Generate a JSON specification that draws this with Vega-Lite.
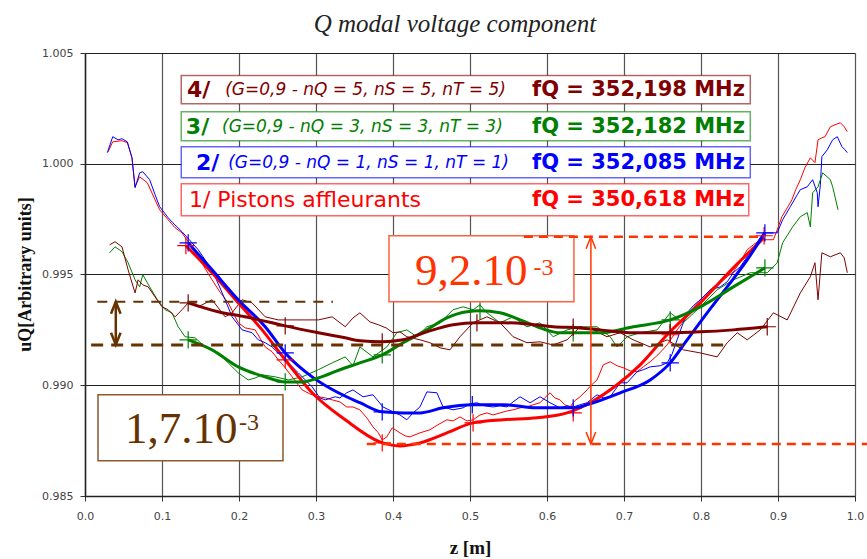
{
"$schema":"https://vega.github.io/schema/vega-lite/v6.json",
"width":770,"height":443,
"autosize":"none",
"padding":{"left":85,"top":53,"right":12,"bottom":63},
"background":"white",
"title":{"text":"Q modal voltage component","font":"Liberation Serif","fontStyle":"italic","fontWeight":"normal","fontSize":25,"color":"#222","anchor":"middle","frame":"group","offset":10,"dx":-15},
"config":{"view":{"stroke":null}},
"datasets":{
"noisy":[
{"s":"1","z":0.030,"u":1.00054},{"s":"1","z":0.036,"u":1.00099},{"s":"1","z":0.048,"u":1.00104},{"s":"1","z":0.055,"u":1.00095},{"s":"1","z":0.061,"u":1.00027},{"s":"1","z":0.065,"u":0.99896},{"s":"1","z":0.071,"u":0.99941},{"s":"1","z":0.081,"u":0.99914},{"s":"1","z":0.091,"u":0.99837},{"s":"1","z":0.097,"u":0.99792},{"s":"1","z":0.108,"u":0.99747},{"s":"1","z":0.117,"u":0.99711},{"s":"1","z":0.126,"u":0.99688},{"s":"1","z":0.134,"u":0.99648},{"s":"1","z":0.143,"u":0.99598},{"s":"1","z":0.153,"u":0.99544},{"s":"1","z":0.165,"u":0.99476},{"s":"1","z":0.175,"u":0.99422},{"s":"1","z":0.186,"u":0.99372},{"s":"1","z":0.199,"u":0.99282},{"s":"1","z":0.208,"u":0.99259},{"s":"1","z":0.221,"u":0.99250},{"s":"1","z":0.234,"u":0.99173},{"s":"1","z":0.243,"u":0.99151},{"s":"1","z":0.251,"u":0.99115},{"s":"1","z":0.260,"u":0.99079},{"s":"1","z":0.269,"u":0.99038},{"s":"1","z":0.282,"u":0.98979},{"s":"1","z":0.292,"u":0.98961},{"s":"1","z":0.303,"u":0.98948},{"s":"1","z":0.312,"u":0.98943},{"s":"1","z":0.321,"u":0.98934},{"s":"1","z":0.331,"u":0.98925},{"s":"1","z":0.340,"u":0.98902},{"s":"1","z":0.348,"u":0.98902},{"s":"1","z":0.357,"u":0.98889},{"s":"1","z":0.366,"u":0.98853},{"s":"1","z":0.374,"u":0.98812},{"s":"1","z":0.381,"u":0.98785},{"s":"1","z":0.386,"u":0.98753},{"s":"1","z":0.392,"u":0.98767},{"s":"1","z":0.399,"u":0.98808},{"s":"1","z":0.409,"u":0.98785},{"s":"1","z":0.416,"u":0.98771},{"s":"1","z":0.422,"u":0.98767},{"s":"1","z":0.435,"u":0.98785},{"s":"1","z":0.448,"u":0.98799},{"s":"1","z":0.458,"u":0.98821},{"s":"1","z":0.470,"u":0.98844},{"s":"1","z":0.478,"u":0.98839},{"s":"1","z":0.487,"u":0.98857},{"s":"1","z":0.496,"u":0.98839},{"s":"1","z":0.504,"u":0.98844},{"s":"1","z":0.513,"u":0.98866},{"s":"1","z":0.522,"u":0.98875},{"s":"1","z":0.530,"u":0.98866},{"s":"1","z":0.539,"u":0.98875},{"s":"1","z":0.548,"u":0.98884},{"s":"1","z":0.556,"u":0.98889},{"s":"1","z":0.565,"u":0.98898},{"s":"1","z":0.574,"u":0.98902},{"s":"1","z":0.582,"u":0.98912},{"s":"1","z":0.591,"u":0.98921},{"s":"1","z":0.597,"u":0.98943},{"s":"1","z":0.604,"u":0.98966},{"s":"1","z":0.610,"u":0.98943},{"s":"1","z":0.617,"u":0.98934},{"s":"1","z":0.623,"u":0.98912},{"s":"1","z":0.630,"u":0.98902},{"s":"1","z":0.636,"u":0.98930},{"s":"1","z":0.643,"u":0.98948},{"s":"1","z":0.652,"u":0.98979},{"s":"1","z":0.658,"u":0.99002},{"s":"1","z":0.665,"u":0.99024},{"s":"1","z":0.673,"u":0.99092},{"s":"1","z":0.682,"u":0.99106},{"s":"1","z":0.691,"u":0.99088},{"s":"1","z":0.699,"u":0.99079},{"s":"1","z":0.708,"u":0.99065},{"s":"1","z":0.717,"u":0.99061},{"s":"1","z":0.725,"u":0.99083},{"s":"1","z":0.734,"u":0.99106},{"s":"1","z":0.744,"u":0.99137},{"s":"1","z":0.756,"u":0.99182},{"s":"1","z":0.769,"u":0.99250},{"s":"1","z":0.782,"u":0.99309},{"s":"1","z":0.790,"u":0.99350},{"s":"1","z":0.799,"u":0.99386},{"s":"1","z":0.808,"u":0.99417},{"s":"1","z":0.816,"u":0.99444},{"s":"1","z":0.825,"u":0.99463},{"s":"1","z":0.834,"u":0.99490},{"s":"1","z":0.842,"u":0.99512},{"s":"1","z":0.851,"u":0.99557},{"s":"1","z":0.860,"u":0.99612},{"s":"1","z":0.868,"u":0.99634},{"s":"1","z":0.877,"u":0.99657},{"s":"1","z":0.886,"u":0.99657},{"s":"1","z":0.894,"u":0.99657},{"s":"1","z":0.900,"u":0.99711},{"s":"1","z":0.905,"u":0.99761},{"s":"1","z":0.912,"u":0.99801},{"s":"1","z":0.918,"u":0.99837},{"s":"1","z":0.923,"u":0.99883},{"s":"1","z":0.929,"u":0.99928},{"s":"1","z":0.935,"u":0.99982},{"s":"1","z":0.942,"u":1.00027},{"s":"1","z":0.948,"u":1.00005},{"s":"1","z":0.952,"u":1.00108},{"s":"1","z":0.957,"u":1.00117},{"s":"1","z":0.961,"u":1.00122},{"s":"1","z":0.968,"u":1.00167},{"s":"1","z":0.974,"u":1.00176},{"s":"1","z":0.981,"u":1.00185},{"s":"1","z":0.986,"u":1.00167},{"s":"1","z":0.990,"u":1.00145},
{"s":"2","z":0.029,"u":1.00050},{"s":"2","z":0.036,"u":1.00122},{"s":"2","z":0.043,"u":1.00108},{"s":"2","z":0.048,"u":1.00113},{"s":"2","z":0.055,"u":1.00099},{"s":"2","z":0.061,"u":1.00027},{"s":"2","z":0.065,"u":0.99892},{"s":"2","z":0.071,"u":0.99959},{"s":"2","z":0.075,"u":0.99964},{"s":"2","z":0.084,"u":0.99928},{"s":"2","z":0.091,"u":0.99860},{"s":"2","z":0.097,"u":0.99806},{"s":"2","z":0.108,"u":0.99756},{"s":"2","z":0.114,"u":0.99734},{"s":"2","z":0.126,"u":0.99693},{"s":"2","z":0.132,"u":0.99670},{"s":"2","z":0.147,"u":0.99612},{"s":"2","z":0.156,"u":0.99566},{"s":"2","z":0.169,"u":0.99490},{"s":"2","z":0.182,"u":0.99386},{"s":"2","z":0.191,"u":0.99309},{"s":"2","z":0.204,"u":0.99250},{"s":"2","z":0.217,"u":0.99237},{"s":"2","z":0.225,"u":0.99205},{"s":"2","z":0.234,"u":0.99192},{"s":"2","z":0.243,"u":0.99173},{"s":"2","z":0.260,"u":0.99115},{"s":"2","z":0.277,"u":0.99056},{"s":"2","z":0.295,"u":0.98993},{"s":"2","z":0.305,"u":0.98943},{"s":"2","z":0.312,"u":0.98934},{"s":"2","z":0.325,"u":0.98948},{"s":"2","z":0.331,"u":0.98943},{"s":"2","z":0.340,"u":0.98966},{"s":"2","z":0.348,"u":0.98979},{"s":"2","z":0.361,"u":0.98948},{"s":"2","z":0.374,"u":0.98957},{"s":"2","z":0.387,"u":0.98902},{"s":"2","z":0.400,"u":0.98880},{"s":"2","z":0.409,"u":0.98866},{"s":"2","z":0.418,"u":0.98844},{"s":"2","z":0.426,"u":0.98875},{"s":"2","z":0.435,"u":0.98902},{"s":"2","z":0.444,"u":0.98970},{"s":"2","z":0.457,"u":0.98966},{"s":"2","z":0.465,"u":0.98902},{"s":"2","z":0.478,"u":0.98889},{"s":"2","z":0.491,"u":0.98898},{"s":"2","z":0.500,"u":0.98916},{"s":"2","z":0.509,"u":0.98921},{"s":"2","z":0.519,"u":0.98907},{"s":"2","z":0.530,"u":0.98902},{"s":"2","z":0.539,"u":0.98907},{"s":"2","z":0.548,"u":0.98902},{"s":"2","z":0.556,"u":0.98925},{"s":"2","z":0.565,"u":0.98948},{"s":"2","z":0.578,"u":0.98921},{"s":"2","z":0.591,"u":0.98948},{"s":"2","z":0.604,"u":0.98921},{"s":"2","z":0.617,"u":0.98898},{"s":"2","z":0.626,"u":0.98907},{"s":"2","z":0.634,"u":0.98902},{"s":"2","z":0.643,"u":0.98912},{"s":"2","z":0.652,"u":0.98921},{"s":"2","z":0.665,"u":0.98957},{"s":"2","z":0.673,"u":0.98943},{"s":"2","z":0.682,"u":0.98948},{"s":"2","z":0.695,"u":0.99011},{"s":"2","z":0.704,"u":0.99011},{"s":"2","z":0.717,"u":0.99061},{"s":"2","z":0.725,"u":0.99070},{"s":"2","z":0.734,"u":0.99083},{"s":"2","z":0.747,"u":0.99088},{"s":"2","z":0.756,"u":0.99101},{"s":"2","z":0.762,"u":0.99137},{"s":"2","z":0.769,"u":0.99205},{"s":"2","z":0.775,"u":0.99264},{"s":"2","z":0.782,"u":0.99327},{"s":"2","z":0.790,"u":0.99359},{"s":"2","z":0.799,"u":0.99386},{"s":"2","z":0.812,"u":0.99431},{"s":"2","z":0.825,"u":0.99444},{"s":"2","z":0.834,"u":0.99467},{"s":"2","z":0.842,"u":0.99508},{"s":"2","z":0.851,"u":0.99535},{"s":"2","z":0.860,"u":0.99580},{"s":"2","z":0.870,"u":0.99630},{"s":"2","z":0.881,"u":0.99688},{"s":"2","z":0.890,"u":0.99688},{"s":"2","z":0.899,"u":0.99688},{"s":"2","z":0.906,"u":0.99747},{"s":"2","z":0.916,"u":0.99806},{"s":"2","z":0.925,"u":0.99860},{"s":"2","z":0.929,"u":0.99883},{"s":"2","z":0.938,"u":0.99896},{"s":"2","z":0.945,"u":0.99928},{"s":"2","z":0.951,"u":0.99869},{"s":"2","z":0.952,"u":0.99806},{"s":"2","z":0.955,"u":0.99905},{"s":"2","z":0.957,"u":1.00032},{"s":"2","z":0.964,"u":1.00063},{"s":"2","z":0.971,"u":1.00108},{"s":"2","z":0.977,"u":1.00122},{"s":"2","z":0.983,"u":1.00077},{"s":"2","z":0.987,"u":1.00063},{"s":"2","z":0.990,"u":1.00050},
{"s":"3","z":0.032,"u":0.99598},{"s":"3","z":0.039,"u":0.99625},{"s":"3","z":0.048,"u":0.99603},{"s":"3","z":0.056,"u":0.99553},{"s":"3","z":0.065,"u":0.99476},{"s":"3","z":0.071,"u":0.99444},{"s":"3","z":0.075,"u":0.99499},{"s":"3","z":0.084,"u":0.99444},{"s":"3","z":0.094,"u":0.99386},{"s":"3","z":0.104,"u":0.99341},{"s":"3","z":0.113,"u":0.99327},{"s":"3","z":0.121,"u":0.99264},{"s":"3","z":0.130,"u":0.99219},{"s":"3","z":0.143,"u":0.99214},{"s":"3","z":0.156,"u":0.99173},{"s":"3","z":0.173,"u":0.99146},{"s":"3","z":0.186,"u":0.99101},{"s":"3","z":0.199,"u":0.99056},{"s":"3","z":0.212,"u":0.99024},{"s":"3","z":0.221,"u":0.99033},{"s":"3","z":0.230,"u":0.99047},{"s":"3","z":0.247,"u":0.99038},{"s":"3","z":0.264,"u":0.99024},{"s":"3","z":0.282,"u":0.99038},{"s":"3","z":0.303,"u":0.99070},{"s":"3","z":0.321,"u":0.99101},{"s":"3","z":0.338,"u":0.99128},{"s":"3","z":0.348,"u":0.99088},{"s":"3","z":0.357,"u":0.99173},{"s":"3","z":0.374,"u":0.99128},{"s":"3","z":0.392,"u":0.99173},{"s":"3","z":0.405,"u":0.99237},{"s":"3","z":0.418,"u":0.99250},{"s":"3","z":0.431,"u":0.99219},{"s":"3","z":0.444,"u":0.99264},{"s":"3","z":0.461,"u":0.99282},{"s":"3","z":0.478,"u":0.99341},{"s":"3","z":0.491,"u":0.99354},{"s":"3","z":0.504,"u":0.99341},{"s":"3","z":0.513,"u":0.99363},{"s":"3","z":0.522,"u":0.99327},{"s":"3","z":0.539,"u":0.99282},{"s":"3","z":0.556,"u":0.99309},{"s":"3","z":0.574,"u":0.99264},{"s":"3","z":0.591,"u":0.99282},{"s":"3","z":0.608,"u":0.99219},{"s":"3","z":0.626,"u":0.99250},{"s":"3","z":0.643,"u":0.99264},{"s":"3","z":0.665,"u":0.99264},{"s":"3","z":0.682,"u":0.99219},{"s":"3","z":0.691,"u":0.99173},{"s":"3","z":0.704,"u":0.99219},{"s":"3","z":0.721,"u":0.99237},{"s":"3","z":0.743,"u":0.99250},{"s":"3","z":0.760,"u":0.99327},{"s":"3","z":0.777,"u":0.99282},{"s":"3","z":0.799,"u":0.99354},{"s":"3","z":0.821,"u":0.99431},{"s":"3","z":0.842,"u":0.99476},{"s":"3","z":0.864,"u":0.99508},{"s":"3","z":0.886,"u":0.99508},{"s":"3","z":0.899,"u":0.99553},{"s":"3","z":0.906,"u":0.99643},{"s":"3","z":0.919,"u":0.99715},{"s":"3","z":0.929,"u":0.99761},{"s":"3","z":0.938,"u":0.99779},{"s":"3","z":0.942,"u":0.99715},{"s":"3","z":0.945,"u":0.99869},{"s":"3","z":0.952,"u":0.99896},{"s":"3","z":0.958,"u":0.99959},{"s":"3","z":0.968,"u":0.99928},{"s":"3","z":0.971,"u":0.99896},{"s":"3","z":0.978,"u":0.99792},
{"s":"4","z":0.032,"u":0.99634},{"s":"4","z":0.039,"u":0.99648},{"s":"4","z":0.048,"u":0.99625},{"s":"4","z":0.056,"u":0.99521},{"s":"4","z":0.065,"u":0.99417},{"s":"4","z":0.069,"u":0.99476},{"s":"4","z":0.075,"u":0.99453},{"s":"4","z":0.082,"u":0.99444},{"s":"4","z":0.091,"u":0.99399},{"s":"4","z":0.100,"u":0.99354},{"s":"4","z":0.108,"u":0.99341},{"s":"4","z":0.117,"u":0.99309},{"s":"4","z":0.126,"u":0.99341},{"s":"4","z":0.134,"u":0.99372},{"s":"4","z":0.147,"u":0.99354},{"s":"4","z":0.165,"u":0.99386},{"s":"4","z":0.182,"u":0.99309},{"s":"4","z":0.191,"u":0.99327},{"s":"4","z":0.204,"u":0.99386},{"s":"4","z":0.217,"u":0.99372},{"s":"4","z":0.234,"u":0.99309},{"s":"4","z":0.251,"u":0.99295},{"s":"4","z":0.269,"u":0.99295},{"s":"4","z":0.286,"u":0.99295},{"s":"4","z":0.303,"u":0.99295},{"s":"4","z":0.321,"u":0.99309},{"s":"4","z":0.338,"u":0.99264},{"s":"4","z":0.348,"u":0.99304},{"s":"4","z":0.357,"u":0.99327},{"s":"4","z":0.370,"u":0.99286},{"s":"4","z":0.381,"u":0.99273},{"s":"4","z":0.391,"u":0.99259},{"s":"4","z":0.400,"u":0.99237},{"s":"4","z":0.409,"u":0.99241},{"s":"4","z":0.418,"u":0.99219},{"s":"4","z":0.435,"u":0.99205},{"s":"4","z":0.448,"u":0.99192},{"s":"4","z":0.461,"u":0.99169},{"s":"4","z":0.474,"u":0.99160},{"s":"4","z":0.487,"u":0.99219},{"s":"4","z":0.504,"u":0.99282},{"s":"4","z":0.522,"u":0.99309},{"s":"4","z":0.539,"u":0.99282},{"s":"4","z":0.556,"u":0.99219},{"s":"4","z":0.574,"u":0.99192},{"s":"4","z":0.591,"u":0.99196},{"s":"4","z":0.608,"u":0.99182},{"s":"4","z":0.626,"u":0.99205},{"s":"4","z":0.643,"u":0.99264},{"s":"4","z":0.660,"u":0.99250},{"s":"4","z":0.678,"u":0.99219},{"s":"4","z":0.695,"u":0.99237},{"s":"4","z":0.712,"u":0.99205},{"s":"4","z":0.734,"u":0.99173},{"s":"4","z":0.756,"u":0.99205},{"s":"4","z":0.777,"u":0.99160},{"s":"4","z":0.799,"u":0.99146},{"s":"4","z":0.821,"u":0.99128},{"s":"4","z":0.834,"u":0.99192},{"s":"4","z":0.847,"u":0.99237},{"s":"4","z":0.860,"u":0.99205},{"s":"4","z":0.877,"u":0.99250},{"s":"4","z":0.894,"u":0.99327},{"s":"4","z":0.912,"u":0.99295},{"s":"4","z":0.929,"u":0.99417},{"s":"4","z":0.942,"u":0.99490},{"s":"4","z":0.948,"u":0.99553},{"s":"4","z":0.952,"u":0.99386},{"s":"4","z":0.957,"u":0.99598},{"s":"4","z":0.968,"u":0.99580},{"s":"4","z":0.981,"u":0.99598},{"s":"4","z":0.986,"u":0.99575},{"s":"4","z":0.990,"u":0.99508}
],
"fits":[
{"s":"1","z":0.131,"u":0.99630},{"s":"1","z":0.165,"u":0.99508},{"s":"1","z":0.199,"u":0.99372},{"s":"1","z":0.230,"u":0.99250},{"s":"1","z":0.260,"u":0.99115},{"s":"1","z":0.295,"u":0.98966},{"s":"1","z":0.338,"u":0.98844},{"s":"1","z":0.383,"u":0.98744},{"s":"1","z":0.409,"u":0.98726},{"s":"1","z":0.435,"u":0.98740},{"s":"1","z":0.470,"u":0.98785},{"s":"1","z":0.504,"u":0.98830},{"s":"1","z":0.543,"u":0.98844},{"s":"1","z":0.587,"u":0.98853},{"s":"1","z":0.626,"u":0.98875},{"s":"1","z":0.656,"u":0.98921},{"s":"1","z":0.691,"u":0.99002},{"s":"1","z":0.721,"u":0.99092},{"s":"1","z":0.756,"u":0.99228},{"s":"1","z":0.799,"u":0.99372},{"s":"1","z":0.842,"u":0.99530},{"s":"1","z":0.882,"u":0.99666},
{"s":"2","z":0.134,"u":0.99643},{"s":"2","z":0.165,"u":0.99521},{"s":"2","z":0.199,"u":0.99386},{"s":"2","z":0.234,"u":0.99264},{"s":"2","z":0.260,"u":0.99146},{"s":"2","z":0.295,"u":0.99038},{"s":"2","z":0.329,"u":0.98966},{"s":"2","z":0.357,"u":0.98921},{"s":"2","z":0.386,"u":0.98880},{"s":"2","z":0.413,"u":0.98875},{"s":"2","z":0.435,"u":0.98875},{"s":"2","z":0.465,"u":0.98898},{"s":"2","z":0.503,"u":0.98912},{"s":"2","z":0.543,"u":0.98912},{"s":"2","z":0.587,"u":0.98898},{"s":"2","z":0.634,"u":0.98898},{"s":"2","z":0.660,"u":0.98921},{"s":"2","z":0.695,"u":0.98966},{"s":"2","z":0.734,"u":0.99024},{"s":"2","z":0.760,"u":0.99101},{"s":"2","z":0.782,"u":0.99205},{"s":"2","z":0.808,"u":0.99327},{"s":"2","z":0.834,"u":0.99444},{"s":"2","z":0.860,"u":0.99566},{"s":"2","z":0.883,"u":0.99688},
{"s":"3","z":0.134,"u":0.99205},{"s":"3","z":0.165,"u":0.99160},{"s":"3","z":0.199,"u":0.99083},{"s":"3","z":0.234,"u":0.99038},{"s":"3","z":0.260,"u":0.99015},{"s":"3","z":0.282,"u":0.99015},{"s":"3","z":0.303,"u":0.99033},{"s":"3","z":0.331,"u":0.99070},{"s":"3","z":0.357,"u":0.99101},{"s":"3","z":0.386,"u":0.99137},{"s":"3","z":0.413,"u":0.99192},{"s":"3","z":0.444,"u":0.99250},{"s":"3","z":0.470,"u":0.99304},{"s":"3","z":0.496,"u":0.99332},{"s":"3","z":0.513,"u":0.99336},{"s":"3","z":0.539,"u":0.99327},{"s":"3","z":0.565,"u":0.99295},{"s":"3","z":0.591,"u":0.99259},{"s":"3","z":0.617,"u":0.99237},{"s":"3","z":0.669,"u":0.99237},{"s":"3","z":0.712,"u":0.99264},{"s":"3","z":0.760,"u":0.99295},{"s":"3","z":0.799,"u":0.99354},{"s":"3","z":0.842,"u":0.99444},{"s":"3","z":0.883,"u":0.99530},
{"s":"4","z":0.134,"u":0.99372},{"s":"4","z":0.173,"u":0.99332},{"s":"4","z":0.208,"u":0.99309},{"s":"4","z":0.243,"u":0.99282},{"s":"4","z":0.260,"u":0.99268},{"s":"4","z":0.303,"u":0.99237},{"s":"4","z":0.338,"u":0.99214},{"s":"4","z":0.357,"u":0.99201},{"s":"4","z":0.386,"u":0.99196},{"s":"4","z":0.413,"u":0.99205},{"s":"4","z":0.444,"u":0.99241},{"s":"4","z":0.478,"u":0.99273},{"s":"4","z":0.509,"u":0.99282},{"s":"4","z":0.543,"u":0.99282},{"s":"4","z":0.574,"u":0.99277},{"s":"4","z":0.608,"u":0.99264},{"s":"4","z":0.643,"u":0.99259},{"s":"4","z":0.669,"u":0.99250},{"s":"4","z":0.712,"u":0.99237},{"s":"4","z":0.756,"u":0.99237},{"s":"4","z":0.799,"u":0.99241},{"s":"4","z":0.842,"u":0.99250},{"s":"4","z":0.886,"u":0.99264}
],
"marks":[
{"s":"1","z":0.131,"u":0.99630},{"s":"1","z":0.260,"u":0.99115},{"s":"1","z":0.386,"u":0.98740},{"s":"1","z":0.504,"u":0.98830},{"s":"1","z":0.634,"u":0.98875},{"s":"1","z":0.760,"u":0.99228},{"s":"1","z":0.882,"u":0.99675},
{"s":"2","z":0.134,"u":0.99643},{"s":"2","z":0.260,"u":0.99146},{"s":"2","z":0.386,"u":0.98880},{"s":"2","z":0.503,"u":0.98912},{"s":"2","z":0.634,"u":0.98898},{"s":"2","z":0.760,"u":0.99101},{"s":"2","z":0.883,"u":0.99688},
{"s":"3","z":0.134,"u":0.99205},{"s":"3","z":0.260,"u":0.99015},{"s":"3","z":0.386,"u":0.99137},{"s":"3","z":0.513,"u":0.99336},{"s":"3","z":0.634,"u":0.99237},{"s":"3","z":0.760,"u":0.99295},{"s":"3","z":0.883,"u":0.99530},
{"s":"4","z":0.134,"u":0.99372},{"s":"4","z":0.260,"u":0.99268},{"s":"4","z":0.386,"u":0.99196},{"s":"4","z":0.509,"u":0.99282},{"s":"4","z":0.634,"u":0.99262},{"s":"4","z":0.760,"u":0.99237},{"s":"4","z":0.886,"u":0.99264}
]
},
"encoding":{
  "x":{"field":"z","type":"quantitative","scale":{"domain":[0,1],"nice":false,"zero":false},
   "axis":{"values":[0,0.1,0.2,0.3,0.4,0.5,0.6,0.7,0.8,0.9,1.0],"format":".1f","title":"z [m]","grid":true,"gridColor":"#555","gridWidth":1.2,"tickColor":"#333","tickSize":5,"domainColor":"#222","domainWidth":1.5,"labelFont":"DejaVu Sans","labelFontSize":11,"labelColor":"#444","labelPadding":9,"labelFlush":false,"labelOverlap":false,"titleFont":"Liberation Serif","titleFontSize":19,"titleFontWeight":"bold","titleColor":"#111","titleY":57,"titleBaseline":"alphabetic"}},
  "y":{"field":"u","type":"quantitative","scale":{"domain":[0.985,1.005],"nice":false,"zero":false},
   "axis":{"values":[0.985,0.99,0.995,1.0,1.005],"format":".3f","title":"uQ[Arbitrary units]","grid":true,"gridColor":"#222","gridWidth":1,"tickColor":"#333","tickSize":5,"domainColor":"#222","domainWidth":1.5,"labelFont":"DejaVu Sans","labelFontSize":11,"labelColor":"#444","labelPadding":7,"labelFlush":false,"labelOverlap":false,"titleFont":"Liberation Serif","titleFontSize":18,"titleFontWeight":"bold","titleColor":"#111","titleX":-60,"titleY":221,"titleAngle":270,"titleAlign":"center","titleBaseline":"middle"}}
},
"layer":[
{"data":{"name":"noisy"},"mark":{"type":"line","strokeWidth":1},
 "encoding":{"color":{"field":"s","type":"nominal","scale":{"domain":["1","2","3","4"],"range":["#ff0000","#0000ff","#008000","#800000"]},"legend":null}}},
{"data":{"name":"fits"},"mark":{"type":"line","strokeWidth":3,"interpolate":"monotone"},
 "encoding":{"color":{"field":"s","type":"nominal","legend":null}}},
{"data":{"name":"marks"},"mark":{"type":"point","shape":"M-1,0L1,0M0,-1L0,1","size":300,"filled":false,"strokeWidth":1.2,"opacity":1},
 "encoding":{"color":{"field":"s","type":"nominal","legend":null}}},
{"data":{"values":[{"s":"4","z":0.125,"z2":0.864,"u":1.00398,"u2":1.00271},{"s":"3","z":0.125,"z2":0.864,"u":1.00235,"u2":1.00104},{"s":"2","z":0.125,"z2":0.864,"u":1.00077,"u2":0.99937},{"s":"1","z":0.125,"z2":0.862,"u":0.99910,"u2":0.99765}]},
 "mark":{"type":"rect","fill":"white","strokeWidth":1.5,"strokeOpacity":0.6},
 "encoding":{"x2":{"field":"z2"},"y2":{"field":"u2"},
  "stroke":{"field":"s","type":"nominal","scale":{"domain":["1","2","3","4"],"range":["#ff0000","#0000ff","#008000","#800000"]},"legend":null}}},
{"data":{"values":[{"s":"4","z":0.1325,"u":1.00334,"t":"4/"},{"s":"3","z":0.131,"u":1.00167,"t":"3/"},{"s":"2","z":0.144,"u":1.00005,"t":"2/"}]},
 "mark":{"type":"text","font":"DejaVu Sans","fontWeight":"bold","fontSize":22,"align":"left","baseline":"middle"},
 "encoding":{"text":{"field":"t"},"color":{"field":"s","type":"nominal","legend":null}}},
{"data":{"values":[{"s":"4","z":0.182,"u":1.00334,"t":"(G=0,9 - nQ = 5, nS = 5, nT = 5)"},{"s":"3","z":0.178,"u":1.00167,"t":"(G=0,9 - nQ = 3, nS = 3, nT = 3)"},{"s":"2","z":0.186,"u":1.00005,"t":"(G=0,9 - nQ = 1, nS = 1, nT = 1)"}]},
 "mark":{"type":"text","font":"DejaVu Sans","fontStyle":"italic","fontSize":17,"align":"left","baseline":"middle"},
 "encoding":{"text":{"field":"t"},"color":{"field":"s","type":"nominal","legend":null}}},
{"data":{"values":[{"s":"4","z":0.857,"u":1.00334,"t":"fQ = 352,198 MHz"},{"s":"3","z":0.857,"u":1.00167,"t":"fQ = 352,182 MHz"},{"s":"2","z":0.857,"u":1.00005,"t":"fQ = 352,085 MHz"},{"s":"1","z":0.857,"u":0.99837,"t":"fQ = 350,618 MHz"}]},
 "mark":{"type":"text","font":"DejaVu Sans","fontWeight":"bold","fontSize":21,"align":"right","baseline":"middle"},
 "encoding":{"text":{"field":"t"},"color":{"field":"s","type":"nominal","legend":null}}},
{"data":{"values":[{"s":"1","z":0.135,"u":0.99837,"t":"1/ Pistons affleurants"}]},
 "mark":{"type":"text","font":"DejaVu Sans","fontSize":22,"align":"left","baseline":"middle"},
 "encoding":{"text":{"field":"t"},"color":{"field":"s","type":"nominal","legend":null}}},
{"data":{"values":[{"z":0.3948,"z2":0.635,"u":0.99675,"u2":0.99377}]},
 "mark":{"type":"rect","fill":"white","stroke":"#ff6040","strokeWidth":1.5},
 "encoding":{"x2":{"field":"z2"},"y2":{"field":"u2"}}},
{"data":{"values":[{"z":0.0169,"z2":0.2571,"u":0.98957,"u2":0.98659}]},
 "mark":{"type":"rect","fill":"white","stroke":"#8c5a2e","strokeWidth":1.5},
 "encoding":{"x2":{"field":"z2"},"y2":{"field":"u2"}}},
{"data":{"values":[{"z":0.4286,"u":0.99453,"t":"9,2.10"}]},
 "mark":{"type":"text","font":"Liberation Serif","fontSize":45,"align":"left","baseline":"alphabetic","color":"#ff3300"},
 "encoding":{"text":{"field":"t"}}},
{"data":{"values":[{"z":0.5825,"u":0.99499,"t":"-3"}]},
 "mark":{"type":"text","font":"Liberation Serif","fontSize":24,"align":"left","baseline":"alphabetic","color":"#ff3300"},
 "encoding":{"text":{"field":"t"}}},
{"data":{"values":[{"z":0.0519,"u":0.98740,"t":"1,7.10"}]},
 "mark":{"type":"text","font":"Liberation Serif","fontSize":45,"align":"left","baseline":"alphabetic","color":"#663300"},
 "encoding":{"text":{"field":"t"}}},
{"data":{"values":[{"z":0.2,"u":0.98799,"t":"-3"}]},
 "mark":{"type":"text","font":"Liberation Serif","fontSize":24,"align":"left","baseline":"alphabetic","color":"#663300"},
 "encoding":{"text":{"field":"t"}}},
{"data":{"values":[{"z":0.570,"z2":0.883,"u":0.99670},{"z":0.366,"z2":1.016,"u":0.98735}]},
 "mark":{"type":"rule","color":"#ff3300","strokeWidth":2.5,"strokeDash":[9,6],"clip":false},
 "encoding":{"x2":{"field":"z2"}}},
{"data":{"values":[{"z":0.016,"z2":0.322,"u":0.99377}]},
 "mark":{"type":"rule","color":"#663300","strokeWidth":2,"strokeDash":[10,8]},
 "encoding":{"x2":{"field":"z2"}}},
{"data":{"values":[{"z":0.008,"z2":0.831,"u":0.99182}]},
 "mark":{"type":"rule","color":"#663300","strokeWidth":3,"strokeDash":[12,8]},
 "encoding":{"x2":{"field":"z2"}}},
{"data":{"values":[{"z":0.657,"u":0.99670,"u2":0.98735}]},
 "mark":{"type":"rule","color":"#ff3300","strokeWidth":1.5},
 "encoding":{"y2":{"field":"u2"}}},
{"data":{"values":[{"z":0.040,"u":0.99377,"u2":0.99182}]},
 "mark":{"type":"rule","color":"#663300","strokeWidth":2.5},
 "encoding":{"y2":{"field":"u2"}}},
{"data":{"values":[{"z":0.657,"u":0.99643,"d":"up"},{"z":0.657,"u":0.98762,"d":"down"}]},
 "mark":{"type":"point","filled":false,"size":144,"strokeWidth":1.5,"color":"#ff3300","opacity":1},
 "encoding":{"shape":{"field":"d","type":"nominal","scale":{"domain":["up","down"],"range":["M-0.8,1L0,-1L0.8,1","M-0.8,-1L0,1L0.8,-1"]},"legend":null}}},
{"data":{"values":[{"z":0.040,"u":0.99350,"d":"up"},{"z":0.040,"u":0.99210,"d":"down"}]},
 "mark":{"type":"point","filled":false,"size":144,"strokeWidth":2.5,"color":"#663300","opacity":1},
 "encoding":{"shape":{"field":"d","type":"nominal","scale":{"domain":["up","down"],"range":["M-0.8,1L0,-1L0.8,1","M-0.8,-1L0,1L0.8,-1"]},"legend":null}}}
]
}
